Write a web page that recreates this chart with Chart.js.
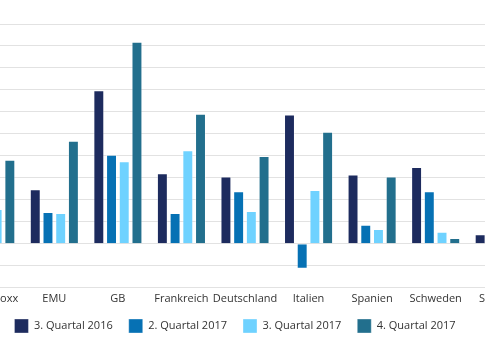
<!DOCTYPE html>
<html>
<head>
<meta charset="utf-8">
<script src="https://cdn.jsdelivr.net/npm/chart.js@4/dist/chart.umd.min.js"></script>
<style>
  html, body { margin: 0; padding: 0; background: #fff; }
  #frame { position: relative; width: 485px; height: 360px; overflow: hidden; }
  /* the chart is wider than the picture, it is cut off left and right */
  #wrap { position: absolute; left: -61px; top: 0; width: 592px; height: 360px; }
</style>
</head>
<body>
<div id="frame">
  <div id="wrap"><canvas id="myBarChart"></canvas></div>
</div>
<script>
// categories
var label = ['Euro Stoxx', 'EMU', 'GB', 'Frankreich', 'Deutschland', 'Italien', 'Spanien', 'Schweden', 'Schweiz'];

// series values (grid step = 1)
var q3_2016 = [2.6, 2.48, 6.99, 3.21, 3.06, 5.88, 3.15, 3.50, 0.44];
var q2_2017 = [1.9, 1.45, 4.05, 1.40, 2.39, -1.13, 0.87, 2.39, 0.6];
var q3_2017 = [1.58, 1.40, 3.76, 4.26, 1.49, 2.45, 0.68, 0.55, 0.9];
var q4_2017 = [3.82, 4.69, 9.19, 5.92, 3.99, 5.10, 3.06, 0.26, 1.2];

var seriesNames = ['3. Quartal 2016', '2. Quartal 2017', '3. Quartal 2017', '4. Quartal 2017'];
var yTicks = [-2, -1, 0, 1, 2, 3, 4, 5, 6, 7, 8, 9, 10];

function bar(name, values, color) {
  return {
    label: name,
    data: values,
    backgroundColor: color,
    borderColor: 'rgba(255,255,255,0.35)',
    borderWidth: 1,
    categoryPercentage: 0.8,
    barPercentage: 0.86
  };
}

var data = {
  labels: label,
  datasets: [
    bar(seriesNames[0], q3_2016, '#1d2b5e'),
    bar(seriesNames[1], q2_2017, '#0671b4'),
    bar(seriesNames[2], q3_2017, '#6fd2ff'),
    bar(seriesNames[3], q4_2017, '#226f8d')
  ]
};

// wide gaps between legend items, but keep the legend close to the axis
var liftLegend = {
  id: 'liftLegend',
  afterLayout: function (chart) {
    if (chart.legend) {
      chart.legend.top -= 6;
      chart.legend.bottom -= 6;
    }
  }
};

var options = {
  animation: false,
  responsive: true,
  maintainAspectRatio: false,
  layout: {
    padding: { top: 24, right: 0, bottom: 11, left: 0 }
  },
  plugins: {
    tooltip: { enabled: false },
    legend: {
      position: 'bottom',
      labels: {
        boxWidth: 14,
        boxHeight: 14,
        padding: 16,
        color: '#333',
        font: { family: 'Open Sans', size: 11 }
      }
    }
  },
  scales: {
    y: {
      min: -2,
      max: 10,
      // y labels sit off the left edge of the picture
      afterFit: function (scale) { scale.width = 20; },
      afterBuildTicks: function (scale) {
        scale.ticks = yTicks.map(function (v) { return { value: v }; });
      },
      ticks: { display: false },
      border: { display: false },
      grid: {
        display: true,
        color: '#e2e2e2',
        lineWidth: 1,
        drawTicks: false
      }
    },
    x: {
      border: { display: false },
      ticks: {
        color: '#333',
        padding: 4,
        maxRotation: 0,
        autoSkip: false,
        font: { family: 'Open Sans', size: 11 }
      },
      grid: {
        display: false,
        drawTicks: false
      }
    }
  }
};

new Chart('myBarChart', {
  type: 'bar',
  options: options,
  data: data,
  plugins: [liftLegend]
});
</script>
</body>
</html>
